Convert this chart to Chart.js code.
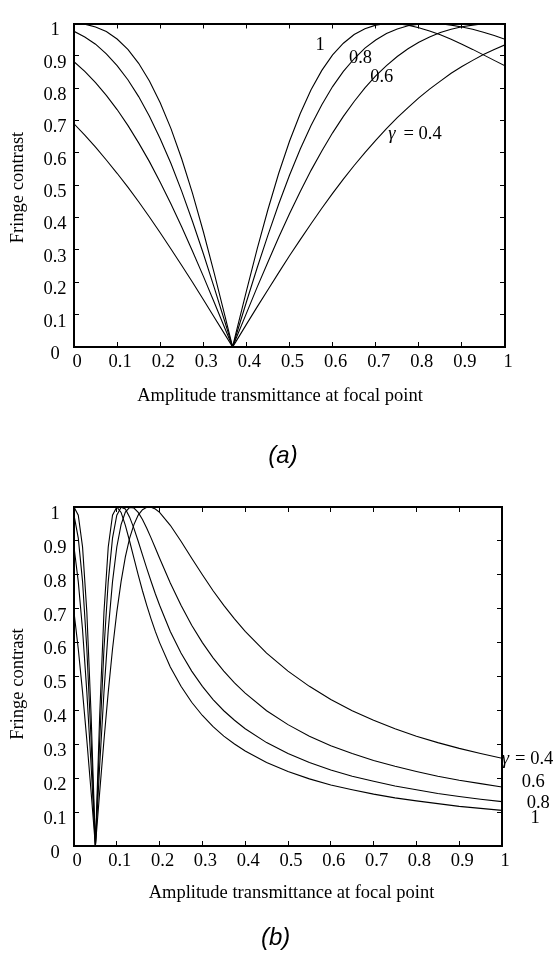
<!DOCTYPE html>
<html>
<head>
<meta charset="utf-8">
<title>Fringe contrast vs amplitude transmittance</title>
<script src="https://cdn.jsdelivr.net/npm/chart.js@4.4.1/dist/chart.umd.min.js"></script>
<style>
  html, body { margin: 0; padding: 0; background: #fff; }
  body { width: 555px; height: 955px; position: relative; overflow: hidden; }
  canvas { position: absolute; left: 0; }
  #chartA { top: 0; }
  #chartB { top: 480px; }
</style>
</head>
<body>
<canvas id="chartA" width="555" height="480"></canvas>
<canvas id="chartB" width="555" height="475"></canvas>
<script>
// ==================================================
// 1. DATA
// ==================================================

// panel (a): amplitude transmittance at focal point
const xA = [0, 0.025, 0.05, 0.075, 0.1, 0.125, 0.15, 0.175, 0.2, 0.225, 0.25, 0.275, 0.3, 0.325, 0.35, 0.368,
            0.375, 0.4, 0.425, 0.45, 0.475, 0.5, 0.525, 0.55, 0.575, 0.6, 0.625, 0.65, 0.675, 0.7, 0.725,
            0.75, 0.775, 0.8, 0.825, 0.85, 0.875, 0.9, 0.925, 0.95, 0.975, 1];
const contrastA_g1 = [1.000, 0.998, 0.989, 0.975, 0.952, 0.920, 0.877, 0.822, 0.755, 0.675, 0.581, 0.475, 0.357, 0.230, 0.097, 0,
            0.039, 0.173, 0.303, 0.425, 0.537, 0.636, 0.722, 0.795, 0.855, 0.903, 0.939, 0.966, 0.984, 0.995, 1.000,
            0.999, 0.995, 0.987, 0.977, 0.965, 0.951, 0.936, 0.920, 0.903, 0.886, 0.869];
const contrastA_g08 = [0.976, 0.958, 0.936, 0.906, 0.870, 0.826, 0.774, 0.713, 0.644, 0.567, 0.481, 0.388, 0.289, 0.185, 0.078, 0,
            0.031, 0.139, 0.245, 0.346, 0.442, 0.531, 0.612, 0.685, 0.749, 0.805, 0.852, 0.891, 0.924, 0.949, 0.969,
            0.983, 0.993, 0.998, 1.000, 0.999, 0.995, 0.989, 0.982, 0.973, 0.963, 0.951];
const contrastA_g06 = [0.882, 0.852, 0.817, 0.778, 0.734, 0.685, 0.631, 0.573, 0.509, 0.442, 0.371, 0.296, 0.219, 0.139, 0.058, 0,
            0.023, 0.104, 0.185, 0.263, 0.339, 0.412, 0.481, 0.546, 0.606, 0.662, 0.713, 0.759, 0.801, 0.838, 0.870,
            0.898, 0.922, 0.942, 0.958, 0.972, 0.982, 0.990, 0.995, 0.999, 1.000, 1.000];
const contrastA_g04 = [0.690, 0.655, 0.618, 0.578, 0.537, 0.494, 0.449, 0.402, 0.353, 0.303, 0.252, 0.200, 0.147, 0.093, 0.039, 0,
            0.015, 0.070, 0.124, 0.177, 0.230, 0.282, 0.332, 0.381, 0.429, 0.475, 0.519, 0.561, 0.601, 0.639, 0.675,
            0.709, 0.740, 0.770, 0.797, 0.822, 0.846, 0.867, 0.886, 0.904, 0.920, 0.934];

// panel (b)
const xB = [0, 0.01, 0.02, 0.03, 0.04, 0.05, 0.06, 0.07, 0.08, 0.09, 0.1, 0.11, 0.12, 0.13, 0.14, 0.15, 0.16, 0.17, 0.18, 0.19, 0.2,
            0.225, 0.25, 0.275, 0.3, 0.325, 0.35, 0.375, 0.4,
            0.45, 0.5, 0.55, 0.6, 0.65, 0.7, 0.75, 0.8, 0.85, 0.9, 0.95, 1];
const contrastB_g1 = [1.000, 0.976, 0.882, 0.690, 0.385, 0, 0.385, 0.690, 0.882, 0.976, 1.000, 0.984, 0.946, 0.899, 0.849, 0.800, 0.753, 0.710, 0.670, 0.633, 0.600,
            0.528, 0.471, 0.424, 0.385, 0.352, 0.324, 0.301, 0.280,
            0.246, 0.220, 0.198, 0.180, 0.166, 0.153, 0.142, 0.133, 0.125, 0.117, 0.111, 0.105];
const contrastB_g08 = [0.976, 0.908, 0.780, 0.581, 0.312, 0, 0.312, 0.581, 0.780, 0.908, 0.976, 0.999, 0.994, 0.970, 0.937, 0.899, 0.859, 0.819, 0.781, 0.744, 0.710,
            0.633, 0.569, 0.516, 0.471, 0.432, 0.399, 0.371, 0.346,
            0.305, 0.273, 0.246, 0.224, 0.206, 0.191, 0.177, 0.166, 0.155, 0.146, 0.138, 0.131];
const contrastB_g06 = [0.882, 0.780, 0.637, 0.454, 0.237, 0, 0.237, 0.454, 0.637, 0.780, 0.882, 0.948, 0.985, 0.999, 0.997, 0.984, 0.963, 0.937, 0.909, 0.879, 0.849,
            0.776, 0.710, 0.651, 0.600, 0.555, 0.516, 0.481, 0.451,
            0.399, 0.358, 0.324, 0.296, 0.273, 0.252, 0.235, 0.220, 0.206, 0.194, 0.184, 0.174];
const contrastB_g04 = [0.690, 0.581, 0.454, 0.312, 0.159, 0, 0.159, 0.312, 0.454, 0.581, 0.690, 0.780, 0.853, 0.908, 0.948, 0.976, 0.992, 0.999, 0.999, 0.994, 0.984,
            0.946, 0.899, 0.849, 0.800, 0.753, 0.710, 0.670, 0.633,
            0.569, 0.516, 0.471, 0.432, 0.399, 0.371, 0.346, 0.324, 0.305, 0.288, 0.273, 0.259];

// axis ticks
const tickStep = 0.1;
const axisMin = 0;
const axisMax = 1;

const xTitle = 'Amplitude transmittance at focal point';
const yTitle = 'Fringe contrast';

// ==================================================
// 2. HELPERS
// ==================================================
const SERIF = "'Liberation Serif', 'Times New Roman', serif";
const SANS = "'Liberation Sans', Arial, sans-serif";
const TXT = 18.5;

function toPoints(xs, ys) {
    return xs.map((x, i) => ({ x: x, y: ys[i] }));
}

function curve(xs, ys) {
    return {
        data: toPoints(xs, ys),
        borderColor: '#000',
        borderWidth: 1.1,
        pointRadius: 0,
        tension: 0,
        fill: false
    };
}

// tick text like the figure: 0, 0.1 ... 0.9, 1
function tickLabel(v) {
    return String(Math.round(v * 10) / 10);
}

// free text (curve labels, axis titles, panel letter)
function textPlugin(items) {
    return {
        id: 'freeText',
        afterDraw(chart) {
            const ctx = chart.ctx;
            items.forEach(t => {
                ctx.save();
                ctx.fillStyle = '#000';
                ctx.font = t.font || (TXT + 'px ' + SERIF);
                ctx.textAlign = t.align || 'center';
                ctx.textBaseline = t.baseline || 'alphabetic';
                ctx.translate(t.x, t.y);
                if (t.rotate) ctx.rotate(t.rotate * Math.PI / 180);
                ctx.fillText(t.text, 0, 0);
                ctx.restore();
            });
        }
    };
}

function buildScales(xAxisHeight) {
    const grid = { display: true, drawOnChartArea: false, drawTicks: true, tickLength: -5, color: '#000', lineWidth: 1 };
    const edge = { display: true, color: '#000', width: 2 };
    const font = { family: SERIF, size: TXT };
    return {
        x: {
            type: 'linear', position: 'bottom', min: axisMin, max: axisMax,
            border: edge, grid: grid,
            ticks: { stepSize: tickStep, color: '#000', font: font, padding: 9.5, labelOffset: 3, maxRotation: 0, autoSkip: false, callback: tickLabel },
            afterFit: s => { s.height = xAxisHeight; }
        },
        x2: {
            type: 'linear', position: 'top', min: axisMin, max: axisMax,
            border: edge, grid: grid,
            ticks: { stepSize: tickStep, display: false },
            afterFit: s => { s.height = 0; }
        },
        y: {
            type: 'linear', position: 'left', min: axisMin, max: axisMax,
            border: edge, grid: grid,
            ticks: { stepSize: tickStep, color: '#000', font: font, padding: 12.4, labelOffset: 7, crossAlign: 'center', callback: tickLabel },
            afterFit: s => { s.width = 74; }
        },
        y2: {
            type: 'linear', position: 'right', min: axisMin, max: axisMax,
            border: edge, grid: grid,
            ticks: { stepSize: tickStep, display: false },
            afterFit: s => { s.width = 0; }
        }
    };
}

function makeChart(id, series, padding, xAxisHeight, labels) {
    return new Chart(document.getElementById(id), {
        type: 'line',
        data: { datasets: series },
        options: {
            responsive: false,
            animation: false,
            devicePixelRatio: 1,
            layout: { padding: padding },
            plugins: { legend: { display: false }, tooltip: { enabled: false } },
            scales: buildScales(xAxisHeight)
        },
        plugins: [textPlugin(labels)]
    });
}

// ==================================================
// 3. PANEL (a)
// ==================================================
makeChart('chartA',
    [curve(xA, contrastA_g1), curve(xA, contrastA_g08), curve(xA, contrastA_g06), curve(xA, contrastA_g04)],
    { left: 0, right: 50, top: 7, bottom: 0 }, 133,
    [
        { text: '1', x: 320, y: 50 },
        { text: '0.8', x: 360.5, y: 62.7 },
        { text: '0.6', x: 381.7, y: 81.7 },
        { text: 'γ', x: 388.3, y: 139.3, align: 'left', font: 'italic ' + TXT + 'px ' + SERIF },
        { text: '= 0.4', x: 441.7, y: 139.3, align: 'right' },
        { text: xTitle, x: 280, y: 400.7 },
        { text: yTitle, x: 22.7, y: 187.5, rotate: -90 },
        { text: '(a)', x: 283, y: 456, baseline: 'middle', font: 'italic 24px ' + SANS }
    ]);

// ==================================================
// 4. PANEL (b)
// ==================================================
makeChart('chartB',
    [curve(xB, contrastB_g1), curve(xB, contrastB_g08), curve(xB, contrastB_g06), curve(xB, contrastB_g04)],
    { left: 0, right: 53, top: 27, bottom: 0 }, 109,
    [
        { text: 'γ', x: 501.7, y: 284, align: 'left', font: 'italic ' + TXT + 'px ' + SERIF },
        { text: '= 0.4', x: 553.3, y: 284, align: 'right' },
        { text: '0.6', x: 533.3, y: 307.3 },
        { text: '0.8', x: 538.3, y: 328.3 },
        { text: '1', x: 535, y: 343.3 },
        { text: xTitle, x: 291.5, y: 418.3 },
        { text: yTitle, x: 22.7, y: 204, rotate: -90 },
        { text: '(b)', x: 275.6, y: 458.3, baseline: 'middle', font: 'italic 24px ' + SANS }
    ]);
</script>
</body>
</html>
